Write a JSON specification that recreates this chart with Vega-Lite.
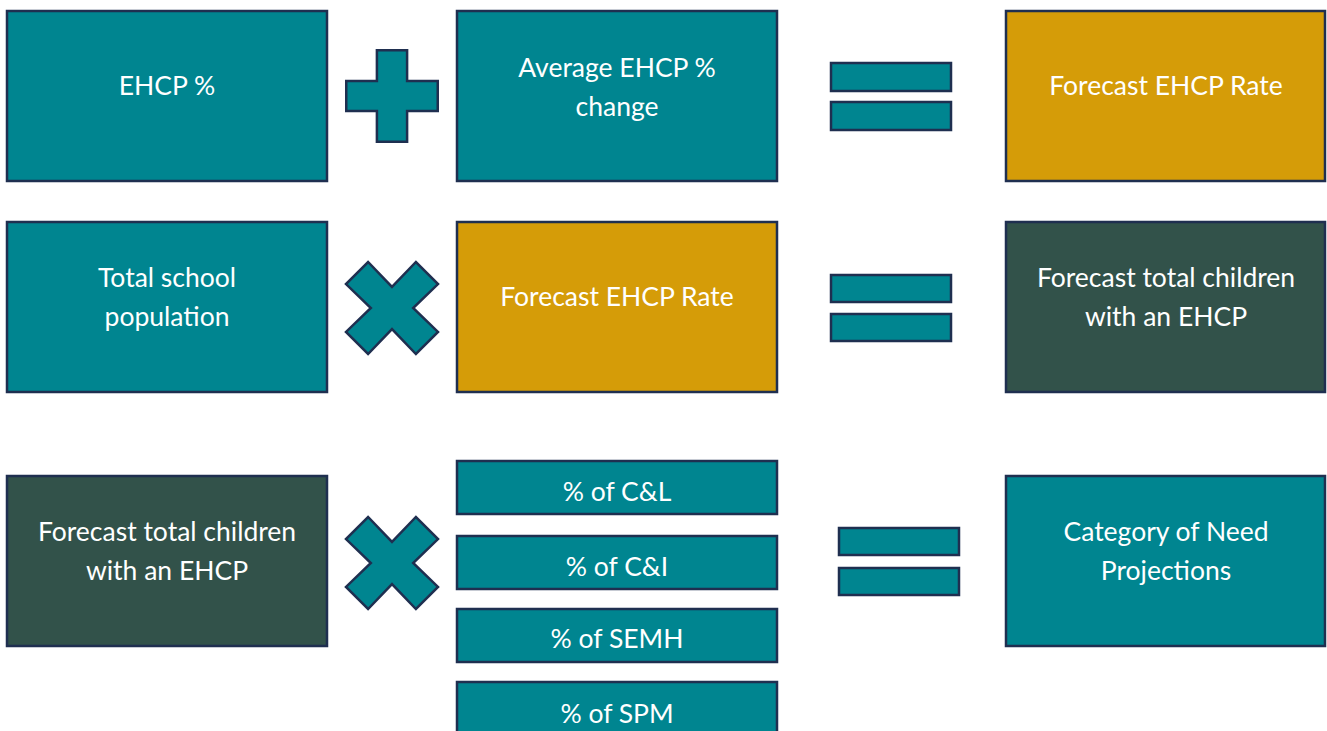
{
  "$schema": "https://vega.github.io/schema/vega-lite/v6.json",
  "width": 1327,
  "height": 731,
  "padding": 0,
  "autosize": {"type": "none"},
  "background": "white",
  "config": {"view": {"stroke": null}},
  "datasets": {
    "boxes": [
      {"x": 7, "x2": 327, "y": 11, "y2": 181, "kind": "teal"},
      {"x": 457, "x2": 777, "y": 11, "y2": 181, "kind": "teal"},
      {"x": 1006, "x2": 1325, "y": 11, "y2": 181, "kind": "gold"},
      {"x": 7, "x2": 327, "y": 222, "y2": 392, "kind": "teal"},
      {"x": 457, "x2": 777, "y": 222, "y2": 392, "kind": "gold"},
      {"x": 1006, "x2": 1325, "y": 222, "y2": 392, "kind": "dark"},
      {"x": 7, "x2": 327, "y": 476, "y2": 646, "kind": "dark"},
      {"x": 1006, "x2": 1325, "y": 476, "y2": 646, "kind": "teal"},
      {"x": 457, "x2": 777, "y": 461, "y2": 514, "kind": "teal"},
      {"x": 457, "x2": 777, "y": 536, "y2": 589, "kind": "teal"},
      {"x": 457, "x2": 777, "y": 609, "y2": 662, "kind": "teal"},
      {"x": 457, "x2": 777, "y": 682, "y2": 745, "kind": "teal"},
      {"x": 831, "x2": 951, "y": 63, "y2": 91, "kind": "teal"},
      {"x": 831, "x2": 951, "y": 102, "y2": 130, "kind": "teal"},
      {"x": 831, "x2": 951, "y": 275, "y2": 302, "kind": "teal"},
      {"x": 831, "x2": 951, "y": 314, "y2": 341, "kind": "teal"},
      {"x": 839, "x2": 959, "y": 528, "y2": 555, "kind": "teal"},
      {"x": 839, "x2": 959, "y": 568, "y2": 595, "kind": "teal"}
    ],
    "plus": [{"x": 392, "y": 96}],
    "cross": [{"x": 392, "y": 308}, {"x": 392, "y": 563}],
    "labels": [
      {"x": 167, "y": 85, "t": "EHCP %"},
      {"x": 617, "y": 67, "t": "Average EHCP %\nchange"},
      {"x": 1166, "y": 85, "t": "Forecast EHCP Rate"},
      {"x": 167, "y": 277, "t": "Total school\npopulation"},
      {"x": 617, "y": 296, "t": "Forecast EHCP Rate"},
      {"x": 1166, "y": 277, "t": "Forecast total children\nwith an EHCP"},
      {"x": 167, "y": 531, "t": "Forecast total children\nwith an EHCP"},
      {"x": 1166, "y": 531, "t": "Category of Need\nProjections"},
      {"x": 617, "y": 491, "t": "% of C&L"},
      {"x": 617, "y": 566, "t": "% of C&I"},
      {"x": 617, "y": 638, "t": "% of SEMH"},
      {"x": 617, "y": 713, "t": "% of SPM"}
    ]
  },
  "layer": [
    {
      "data": {"name": "boxes"},
      "mark": {"type": "rect", "stroke": "#1f2f50", "strokeWidth": 2.5},
      "encoding": {
        "x": {"field": "x", "type": "quantitative", "scale": {"domain": [0, 1327], "nice": false, "zero": false}, "axis": null},
        "x2": {"field": "x2"},
        "y": {"field": "y", "type": "quantitative", "scale": {"domain": [0, 731], "nice": false, "zero": false, "reverse": true}, "axis": null},
        "y2": {"field": "y2"},
        "fill": {"field": "kind", "type": "nominal", "scale": {"domain": ["teal", "gold", "dark"], "range": ["#008590", "#d59c08", "#32524a"]}, "legend": null}
      }
    },
    {
      "data": {"name": "plus"},
      "mark": {"type": "point", "filled": true, "fill": "#008590", "fillOpacity": 1, "opacity": 1, "stroke": "#1f2f50", "strokeWidth": 2.5, "size": 8372, "shape": "M-0.33,-1 L0.33,-1 L0.33,-0.33 L1,-0.33 L1,0.33 L0.33,0.33 L0.33,1 L-0.33,1 L-0.33,0.33 L-1,0.33 L-1,-0.33 L-0.33,-0.33 Z"},
      "encoding": {
        "x": {"field": "x", "type": "quantitative"},
        "y": {"field": "y", "type": "quantitative"}
      }
    },
    {
      "data": {"name": "cross"},
      "mark": {"type": "point", "filled": true, "fill": "#008590", "fillOpacity": 1, "opacity": 1, "stroke": "#1f2f50", "strokeWidth": 2.5, "size": 8464, "shape": "M0,-0.46 L0.52,-1 L1,-0.52 L0.46,0 L1,0.52 L0.52,1 L0,0.46 L-0.52,1 L-1,0.52 L-0.46,0 L-1,-0.52 L-0.52,-1 Z"},
      "encoding": {
        "x": {"field": "x", "type": "quantitative"},
        "y": {"field": "y", "type": "quantitative"}
      }
    },
    {
      "data": {"name": "labels"},
      "mark": {"type": "text", "color": "white", "font": "Lato", "fontSize": 26.5, "align": "center", "baseline": "middle", "lineBreak": "\n", "lineHeight": 39, "dy": 1.5},
      "encoding": {
        "x": {"field": "x", "type": "quantitative"},
        "y": {"field": "y", "type": "quantitative"},
        "text": {"field": "t"}
      }
    }
  ]
}
